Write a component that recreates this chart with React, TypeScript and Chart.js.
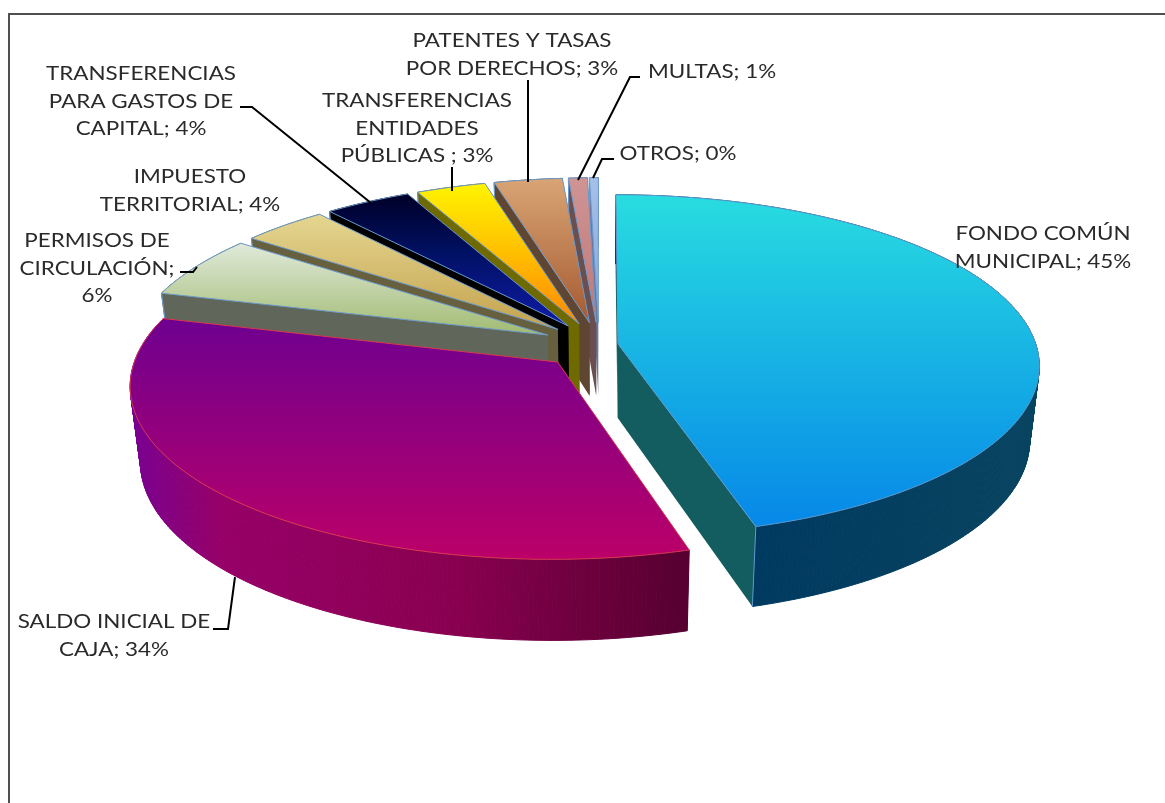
import React, { useEffect, useRef } from "react";
import { Chart, registerables } from "chart.js";

Chart.register(...registerables);

const categories = [
  "FONDO COMÚN MUNICIPAL",
  "SALDO INICIAL DE CAJA",
  "PERMISOS DE CIRCULACIÓN",
  "IMPUESTO TERRITORIAL",
  "TRANSFERENCIAS PARA GASTOS DE CAPITAL",
  "TRANSFERENCIAS ENTIDADES PÚBLICAS",
  "PATENTES Y TASAS POR DERECHOS",
  "MULTAS",
  "OTROS",
];
const shares = [45.4, 33.8, 5.95, 3.78, 3.8, 3.05, 3.0, 0.83, 0.39];

// explosion of each slice, in hundredths of the radius
const explode = [4.6, 14.0, 13.7, 13.7, 13.7, 13.7, 13.7, 13.7, 13.7];

const labelLines = [
  ["FONDO COMÚN", "MUNICIPAL; 45%"],
  ["SALDO INICIAL DE", "CAJA; 34%"],
  ["PERMISOS DE", "CIRCULACIÓN;", "6%"],
  ["IMPUESTO", "TERRITORIAL; 4%"],
  ["TRANSFERENCIAS", "PARA GASTOS DE", "CAPITAL; 4%"],
  ["TRANSFERENCIAS", "ENTIDADES", "PÚBLICAS ; 3%"],
  ["PATENTES Y TASAS", "POR DERECHOS; 3%"],
  ["MULTAS; 1%"],
  ["OTROS; 0%"],
];

// label layout: centre x and first baseline
const labelAt = [
  [1043, 240],
  [114, 628],
  [97, 247],
  [190, 183],
  [141, 80],
  [417, 107],
  [512, 47],
  [712, 78],
  [678, 160],
];
const leaders: number[][][] = [
  [],
  [[213, 629], [228, 629], [235, 577]],
  [[180, 272], [193, 272], [197, 267]],
  [],
  [[240, 107], [252, 107], [371, 203]],
  [[452, 167], [452, 191]],
  [[528, 80], [528, 182]],
  [[640, 77], [630, 77], [578, 180]],
  [[614, 159], [602, 159], [593, 178]],
];

const topStops: [number, string][][] = [
  [[196, "#28DCE0"], [526, "#0688E8"]],
  [[318, "#6E0090"], [560, "#BC0068"]],
  [[245, "#DFE9D8"], [340, "#9DB86C"]],
  [[215, "#E4D690"], [330, "#C4A24E"]],
  [[195, "#000028"], [250, "#001060"], [327, "#101CA8"]],
  [[184, "#FFF400"], [323, "#FF8800"]],
  [[180, "#D8A474"], [322, "#A55A30"]],
  [[179, "#CF9494"], [320, "#C07878"]],
  [[179, "#A4C0EA"], [320, "#88A8D8"]],
];
const wallStops: [number, string][][] = [
  [[755, "#003A60"], [1040, "#084460"]],
  [[135, "#7A0090"], [220, "#960068"], [450, "#8A0050"], [688, "#560030"]],
  [[160, "#60675A"], [560, "#60675A"]],
  [[250, "#66603F"], [560, "#66603F"]],
  [[330, "#000000"], [570, "#000000"]],
  [[420, "#6F6A00"], [580, "#6F6A00"]],
  [[495, "#5E4632"], [590, "#5E4632"]],
  [[568, "#6A4F50"], [600, "#6A4F50"]],
  [[589, "#6878A0"], [600, "#6878A0"]],
];
const faceColors = ["#135C60", "#560030", "#60675A", "#66603F", "#000000", "#6F6A00", "#5E4632", "#6A4F50", "#6878A0"];
const edgeColors = ["#5A9AD0", "#D83A50", "#6C9ACC", "#6C9ACC", "#6C9ACC", "#6C9ACC", "#6C9ACC", "#6C9ACC", "#6C9ACC"];

const view = { cx: 599, cy: 345, A: 418, B: 168, p: 0.125, D: 74, shrink: 0.022 };
const fontFamily = "Lato, 'Open Sans', sans-serif";
const fontPx = 20;
const textStretch = 1.12;
const lineGap = 27.5;

function project(u: number, f: number, h: number): [number, number] {
  const w = 1 - view.p * f;
  const k = 1 - h * view.shrink;
  return [view.cx + (view.A * u * k) / w, view.cy + (view.B * f * k + h * view.D) / w];
}

function trace(ctx: CanvasRenderingContext2D, pts: [number, number][]) {
  ctx.beginPath();
  pts.forEach(([x, y], i) => (i ? ctx.lineTo(x, y) : ctx.moveTo(x, y)));
  ctx.closePath();
}

const pie3d = {
  id: "pie3d",
  beforeDatasetsDraw(chart: any) {
    const ctx: CanvasRenderingContext2D = chart.ctx;
    const arcs = chart.getDatasetMeta(0).data;
    for (let i = arcs.length - 1; i >= 0; i--) {
      const el = arcs[i];
      const a0: number = el.startAngle;
      const a1: number = el.endAngle;
      const mid = (a0 + a1) / 2;
      const d = el.options.offset / 100;
      const ox = Math.cos(mid) * d;
      const of = Math.sin(mid) * d;
      const n = Math.max(2, Math.ceil((a1 - a0) / 0.01));
      const rim = (h: number) => {
        const out: [number, number][] = [];
        for (let k = 0; k <= n; k++) {
          const a = a0 + ((a1 - a0) * k) / n;
          out.push(project(ox + Math.cos(a), of + Math.sin(a), h));
        }
        return out;
      };
      const top = rim(0);
      const bottom = rim(1);
      const apexTop = project(ox, of, 0);
      const apexBottom = project(ox, of, 1);
      // the face towards the viewer: the closing edge for the two large front slices,
      // the opening edge for the slices behind them
      const frontIdx = i < 2 ? n : 0;
      const backIdx = frontIdx === n ? 0 : n;

      ctx.save();
      ctx.lineWidth = 1;

      // hidden cut face
      ctx.fillStyle = faceColors[i];
      trace(ctx, [apexTop, top[backIdx], bottom[backIdx], apexBottom]);
      ctx.fill();

      // outer wall, one strip at a time so that the silhouette stays filled where the wall folds
      const ws = wallStops[i];
      const wg = ctx.createLinearGradient(ws[0][0], 0, ws[ws.length - 1][0], 0);
      const wspan = ws[ws.length - 1][0] - ws[0][0];
      ws.forEach(([p, c]) => wg.addColorStop((p - ws[0][0]) / wspan, c));
      ctx.fillStyle = wg;
      ctx.strokeStyle = wg;
      for (let k = 0; k < n; k++) {
        trace(ctx, [top[k], top[k + 1], bottom[k + 1], bottom[k]]);
        ctx.fill();
        ctx.stroke();
      }

      // visible cut face
      ctx.fillStyle = faceColors[i];
      ctx.strokeStyle = edgeColors[i];
      if (i !== 1) {
        trace(ctx, [apexTop, top[frontIdx], bottom[frontIdx], apexBottom]);
        ctx.fill();
      }
      // vertical corner of the wall
      ctx.beginPath();
      ctx.moveTo(top[frontIdx][0], top[frontIdx][1]);
      ctx.lineTo(bottom[frontIdx][0], bottom[frontIdx][1]);
      ctx.stroke();

      // top surface
      const s = topStops[i];
      const tg = ctx.createLinearGradient(0, s[0][0], 0, s[s.length - 1][0]);
      const span = s[s.length - 1][0] - s[0][0];
      s.forEach(([p, c]) => tg.addColorStop((p - s[0][0]) / span, c));
      ctx.fillStyle = tg;
      trace(ctx, [apexTop, ...top]);
      ctx.fill();
      ctx.strokeStyle = edgeColors[i];
      ctx.stroke();
      ctx.restore();
    }
    return false;
  },
  afterDraw(chart: any) {
    const ctx: CanvasRenderingContext2D = chart.ctx;
    ctx.save();
    // frame
    ctx.strokeStyle = "#505050";
    ctx.lineWidth = 2;
    ctx.beginPath();
    ctx.moveTo(9, 803);
    ctx.lineTo(9, 14);
    ctx.lineTo(1165, 14);
    ctx.stroke();
    // leader lines
    ctx.strokeStyle = "#000000";
    ctx.lineWidth = 2;
    leaders.forEach((line) => {
      if (!line.length) return;
      ctx.beginPath();
      line.forEach(([x, y], i) => (i ? ctx.lineTo(x, y) : ctx.moveTo(x, y)));
      ctx.stroke();
    });
    // labels
    ctx.fillStyle = "#2A2A2A";
    ctx.font = `${fontPx}px ${fontFamily}`;
    ctx.textAlign = "center";
    ctx.textBaseline = "alphabetic";
    labelLines.forEach((lines, i) => {
      lines.forEach((t, k) => {
        ctx.save();
        ctx.translate(labelAt[i][0], labelAt[i][1] + k * lineGap);
        ctx.scale(textStretch, 1);
        ctx.fillText(t, 0, 0);
        ctx.restore();
      });
    });
    ctx.restore();
  },
};

export default function App() {
  const ref = useRef<HTMLCanvasElement>(null);
  useEffect(() => {
    document.body.style.margin = "0";
    const chart = new Chart(ref.current!, {
      type: "pie",
      data: {
        labels: categories,
        datasets: [
          {
            data: shares,
            offset: explode,
            backgroundColor: faceColors,
            borderWidth: 0,
          },
        ],
      },
      options: {
        responsive: false,
        animation: false,
        plugins: { legend: { display: false }, tooltip: { enabled: false } },
      },
      plugins: [pie3d],
    } as any);
    return () => chart.destroy();
  }, []);
  return (
    <canvas
      ref={ref}
      width={1165}
      height={803}
      style={{ position: "absolute", left: 0, top: 0, display: "block", background: "#fff" }}
    />
  );
}
